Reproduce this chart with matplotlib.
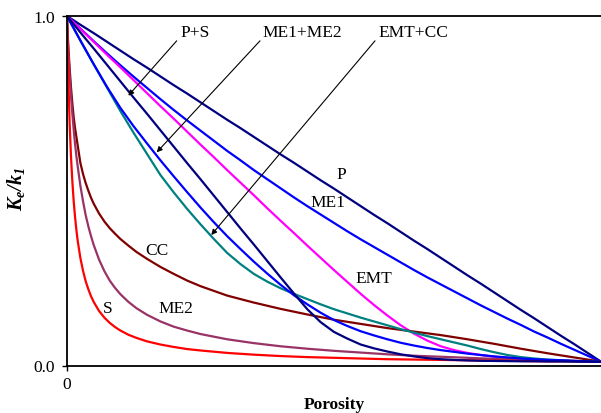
import matplotlib
matplotlib.use("Agg")
import matplotlib.pyplot as plt

plt.rcParams['font.family'] = ['Liberation Serif', 'DejaVu Serif']
plt.rcParams['mathtext.fontset'] = 'custom'
plt.rcParams['mathtext.rm'] = 'Liberation Serif'
plt.rcParams['mathtext.it'] = 'Liberation Serif:italic'
plt.rcParams['mathtext.bf'] = 'Liberation Serif:bold'
plt.rcParams['mathtext.bfit'] = 'Liberation Serif:italic:bold'

# ---- data ----
porosity = [0.0, 0.025, 0.05, 0.075, 0.1, 0.125, 0.15, 0.175, 0.2, 0.225,
            0.25, 0.275, 0.3, 0.325, 0.35, 0.375, 0.4, 0.425, 0.45, 0.475,
            0.5, 0.525, 0.55, 0.575, 0.6, 0.625, 0.65, 0.675, 0.7, 0.725,
            0.75, 0.775, 0.8, 0.825, 0.85, 0.875, 0.9, 0.925, 0.95, 0.975, 1.0]
porosity_fine = [0.0, 0.001, 0.0025, 0.005, 0.0075, 0.01, 0.0125, 0.015, 0.0175, 0.02,
                 0.025, 0.03, 0.035, 0.04, 0.045, 0.05, 0.06, 0.07, 0.08, 0.09,
                 0.1, 0.115, 0.13, 0.15, 0.175, 0.2, 0.225, 0.25, 0.3, 0.35,
                 0.4, 0.45, 0.5, 0.55, 0.6, 0.65, 0.7, 0.75, 0.8, 0.85,
                 0.9, 0.95, 1.0]

k_P = [1.0, 0.975, 0.951, 0.926, 0.901, 0.876, 0.852, 0.827, 0.802, 0.778,
       0.753, 0.728, 0.703, 0.679, 0.654, 0.629, 0.604, 0.580, 0.555, 0.530,
       0.506, 0.481, 0.456, 0.431, 0.407, 0.382, 0.357, 0.333, 0.308, 0.283,
       0.258, 0.234, 0.209, 0.184, 0.159, 0.135, 0.110, 0.085, 0.061, 0.036, 0.011]
k_ME1 = [1.0, 0.964, 0.928, 0.893, 0.859, 0.826, 0.794, 0.762, 0.731, 0.701,
         0.672, 0.643, 0.614, 0.587, 0.559, 0.533, 0.507, 0.481, 0.456, 0.432,
         0.408, 0.384, 0.361, 0.339, 0.317, 0.295, 0.273, 0.252, 0.232, 0.212,
         0.192, 0.172, 0.153, 0.134, 0.116, 0.097, 0.080, 0.062, 0.045, 0.028, 0.011]
k_EMT = [1.0, 0.963, 0.926, 0.889, 0.853, 0.816, 0.779, 0.742, 0.706, 0.669,
         0.632, 0.596, 0.559, 0.523, 0.487, 0.450, 0.414, 0.379, 0.343, 0.308,
         0.273, 0.239, 0.205, 0.173, 0.143, 0.115, 0.091, 0.071, 0.055, 0.044,
         0.036, 0.030, 0.025, 0.022, 0.019, 0.017, 0.015, 0.014, 0.013, 0.012, 0.011]
k_PS = [1.0, 0.953, 0.907, 0.86, 0.813, 0.766, 0.72, 0.673, 0.626, 0.579,
        0.533, 0.486, 0.439, 0.392, 0.346, 0.299, 0.252, 0.206, 0.161, 0.124,
        0.096, 0.077, 0.06, 0.049, 0.04, 0.032, 0.026, 0.021, 0.018, 0.016,
        0.0145, 0.0135, 0.013, 0.0125, 0.012, 0.012, 0.0115, 0.0115, 0.011, 0.011, 0.011]
k_ME1ME2 = [1.0, 0.930, 0.862, 0.797, 0.737, 0.684, 0.635, 0.587, 0.541, 0.496,
            0.452, 0.41, 0.37, 0.333, 0.297, 0.263, 0.231, 0.201, 0.175, 0.151,
            0.130, 0.113, 0.098, 0.086, 0.075, 0.065, 0.057, 0.05, 0.044, 0.039,
            0.034, 0.03, 0.026, 0.023, 0.02, 0.018, 0.016, 0.015, 0.013, 0.012, 0.011]
k_EMTCC = [1.0, 0.93, 0.862, 0.795, 0.728, 0.665, 0.605, 0.545, 0.495, 0.448,
           0.404, 0.362, 0.322, 0.29, 0.262, 0.24, 0.221, 0.205, 0.19, 0.175,
           0.161, 0.149, 0.137, 0.126, 0.115, 0.104, 0.094, 0.084, 0.075, 0.066,
           0.057, 0.047, 0.038, 0.03, 0.024, 0.02, 0.017, 0.015, 0.013, 0.012, 0.011]
k_CC = [1.0, 0.96, 0.91, 0.85, 0.795, 0.75, 0.71, 0.68, 0.655, 0.63,
        0.58, 0.548, 0.522, 0.5, 0.48, 0.463, 0.435, 0.412, 0.393, 0.377,
        0.362, 0.343, 0.325, 0.305, 0.282, 0.262, 0.243, 0.227, 0.2, 0.18,
        0.162, 0.146, 0.131, 0.119, 0.107, 0.097, 0.087, 0.075, 0.062, 0.048,
        0.035, 0.023, 0.011]
k_ME2 = [1.0, 0.955, 0.90, 0.83, 0.77, 0.72, 0.675, 0.635, 0.60, 0.57,
         0.515, 0.47, 0.43, 0.398, 0.37, 0.345, 0.303, 0.27, 0.243, 0.222,
         0.204, 0.182, 0.164, 0.145, 0.126, 0.111, 0.1, 0.09, 0.075, 0.064,
         0.055, 0.048, 0.042, 0.037, 0.032, 0.028, 0.025, 0.022, 0.019, 0.017,
         0.015, 0.013, 0.011]
k_S = [1.0, 0.918, 0.817, 0.690, 0.597, 0.527, 0.471, 0.426, 0.389, 0.357,
       0.308, 0.271, 0.241, 0.218, 0.198, 0.182, 0.156, 0.137, 0.122, 0.110,
       0.100, 0.088, 0.079, 0.069, 0.060, 0.053, 0.047, 0.043, 0.036, 0.031,
       0.027, 0.024, 0.022, 0.020, 0.018, 0.017, 0.016, 0.015, 0.014, 0.013,
       0.012, 0.012, 0.011]

# ---- figure ----
W, H = 601, 414
fig = plt.figure(figsize=(W / 100, H / 100), dpi=100)
x0, x1, ytop, ybot = 67, 601, 17, 366.5
ax = fig.add_axes([x0 / W, (H - ybot) / H, (x1 - x0) / W, (ybot - ytop) / H])

lw = 1.6
kw = dict(lw=lw, solid_joinstyle='round', solid_capstyle='round')
ax.plot(porosity, k_P, color='#000080', **kw)
ax.plot(porosity, k_ME1, color='#0000FF', **kw)
ax.plot(porosity, k_EMT, color='#FF00FF', **kw)
ax.plot(porosity_fine, k_CC, color='#800000', **kw)
ax.plot(porosity_fine, k_ME2, color='#993366', **kw)
ax.plot(porosity_fine, k_S, color='#FF0000', **kw)
ax.plot(porosity, k_EMTCC, color='#008080', **kw)
ax.plot(porosity, k_ME1ME2, color='#0000FF', **kw)
ax.plot(porosity, k_PS, color='#000080', **kw)

ax.set_xlim(0, 1)
ax.set_ylim(0, 1)
ax.set_xticks([0])
ax.set_xticklabels(['0'])
ax.set_yticks([0, 1])
ax.set_yticklabels(['0.0', '1.0'])
ax.tick_params(direction='out', length=3.6, width=1.0, labelsize=12.5)
ax.tick_params(axis='y', pad=5)
ax.tick_params(axis='x', pad=4)
ax.spines['right'].set_visible(False)
for s in ['left', 'bottom', 'top']:
    ax.spines[s].set_linewidth(1.3)

fs = 12.5
# curve labels
ax.text(0.5137, 0.548, 'P', fontsize=fs, ha='center', va='center')
ax.text(0.4888, 0.467, 'ME1', fontsize=fs, ha='center', va='center')
ax.text(0.575, 0.250, 'EMT', fontsize=fs, ha='center', va='center')
ax.text(0.1681, 0.331, 'CC', fontsize=fs, ha='center', va='center')
ax.text(0.204, 0.1645, 'ME2', fontsize=fs, ha='center', va='center')
ax.text(0.0758, 0.1645, 'S', fontsize=fs, ha='center', va='center')

# combination labels with arrows
ap = dict(arrowstyle='-|>', color='black', lw=0.8, mutation_scale=8,
          shrinkA=0, shrinkB=0)
ax.text(0.2397, 0.953, 'P+S', fontsize=fs, ha='center', va='center')
ax.annotate('', xy=(0.1148, 0.772), xytext=(0.2054, 0.929), arrowprops=ap)
ax.text(0.440, 0.953, 'ME1+ME2', fontsize=fs, ha='center', va='center')
ax.annotate('', xy=(0.168, 0.610), xytext=(0.3614, 0.929), arrowprops=ap)
ax.text(0.648, 0.953, 'EMT+CC', fontsize=fs, ha='center', va='center')
ax.annotate('', xy=(0.2702, 0.3734), xytext=(0.5768, 0.929), arrowprops=ap)

fig.text(334 / W, 1 - 405 / H, 'Porosity', fontsize=12.5, weight='bold',
         ha='center', va='center')
fig.text(16 / W, 1 - 189 / H, r'$\mathbfit{K_e/k_1}$', fontsize=14.5,
         rotation=90, ha='center', va='center')

fig.savefig('out.png', dpi=100)
